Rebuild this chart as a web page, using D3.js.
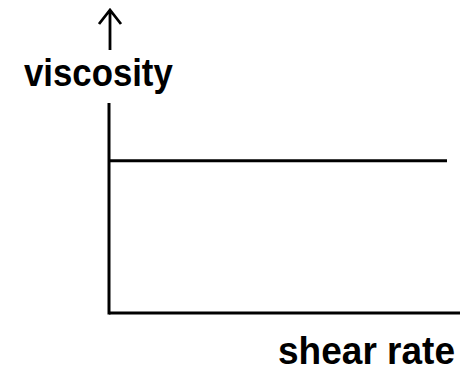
<!DOCTYPE html>
<html>
<head>
<meta charset="utf-8">
<script src="https://cdn.jsdelivr.net/npm/d3@7"></script>
<style>
  body { margin: 0; background: #fff; }
  text { font-family: "Liberation Sans", Arial, sans-serif; font-weight: bold; fill: #000; }
</style>
</head>
<body>
<svg width="460" height="375"></svg>
<script>
// newtonian fluid: viscosity stays the same at any shear rate
var shearRate = [0, 1];
var viscosity = [0.725, 0.725];
var labels = ['viscosity', 'shear rate'];

var svg = d3.select('svg');

var x = d3.scaleLinear().domain([0, 1]).range([109, 447]);
var y = d3.scaleLinear().domain([0, 1]).range([313, 103]);

// axes, plain lines, no ticks
svg.append('line')
    .attr('x1', x(0)).attr('x2', 460)
    .attr('y1', y(0)).attr('y2', y(0))
    .attr('stroke', '#000').attr('stroke-width', 3);
svg.append('line')
    .attr('x1', x(0)).attr('x2', x(0))
    .attr('y1', y(0) + 1.5).attr('y2', y(1))
    .attr('stroke', '#000').attr('stroke-width', 3);

// arrow above the label
svg.append('path')
    .attr('d', 'M110,50 L110,10 M99,24 L110,10 L121,24')
    .attr('fill', 'none')
    .attr('stroke', '#000').attr('stroke-width', 2.8);

var line = d3.line()
    .x((d, i) => x(shearRate[i]))
    .y(d => y(d));

svg.append('path')
    .datum(viscosity)
    .attr('d', line)
    .attr('fill', 'none')
    .attr('stroke', '#000').attr('stroke-width', 3);

// glyphs squeezed sideways a little, the original font is narrower
svg.append('text')
    .attr('transform', 'translate(24,86) scale(0.915,1)')
    .attr('font-size', 38)
    .text(labels[0]);

svg.append('text')
    .attr('transform', 'translate(278,364) scale(0.95,1)')
    .attr('font-size', 39)
    .text(labels[1]);
</script>
</body>
</html>
